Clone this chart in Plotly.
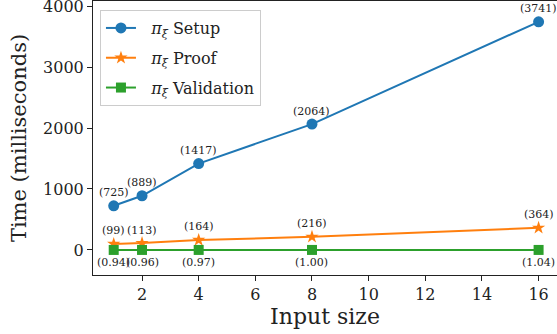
import plotly.graph_objects as go

input_sizes = [1, 2, 4, 8, 16]
setup_ms = [725, 889, 1417, 2064, 3741]
proof_ms = [99, 113, 164, 216, 364]
validation_ms = [0.94, 0.96, 0.97, 1.00, 1.04]
setup_labels = ["(725)", "(889)", "(1417)", "(2064)", "(3741)"]
proof_labels = ["(99)", "(113)", "(164)", "(216)", "(364)"]
validation_labels = ["(0.94)", "(0.96)", "(0.97)", "(1.00)", "(1.04)"]
x_ticks = [2, 4, 6, 8, 10, 12, 14, 16]
y_ticks = [0, 1000, 2000, 3000, 4000]

FONT = "DejaVu Serif"
fig = go.Figure()

series = [
    ("&nbsp;&nbsp;<i>π</i><sub><i>ξ</i></sub> Setup", setup_ms, "#1f77b4", "circle", 11),
    ("&nbsp;&nbsp;<i>π</i><sub><i>ξ</i></sub> Proof", proof_ms, "#ff7f0e", "star", 10),
    ("&nbsp;&nbsp;<i>π</i><sub><i>ξ</i></sub> Validation", validation_ms, "#2ca02c", "square", 10),
]
for i, (name, ys, col, sym, sz) in enumerate(series):
    fig.add_trace(go.Scatter(
        x=input_sizes, y=ys, name=name, mode="lines+markers",
        line=dict(color=col, width=2),
        marker=dict(symbol=sym, size=sz, color=col, line=dict(width=0)),
        legendgroup=f"g{i}",
    ))

for xs, ys, labels, shift in [
    (input_sizes, setup_ms, setup_labels, 13),
    (input_sizes, proof_ms, proof_labels, 13),
    (input_sizes, validation_ms, validation_labels, -13),
]:
    for x, y, t in zip(xs, ys, labels):
        fig.add_annotation(x=x, y=y, text=t, showarrow=False, yshift=shift,
                           font=dict(family=FONT, size=11, color="#222"))

fig.update_layout(
    width=557, height=334,
    margin=dict(l=93, r=0, t=1, b=59),
    plot_bgcolor="white", paper_bgcolor="white",
    font=dict(family=FONT, color="#222"),
    showlegend=True,
    legend=dict(
        x=0.015, y=0.967, xanchor="left", yanchor="top",
        bgcolor="white", bordercolor="#cccccc", borderwidth=1,
        font=dict(family=FONT, size=16, color="#222"),
        traceorder="grouped", tracegroupgap=6,
    ),
    xaxis=dict(
        range=[0.269, 16.65], tickvals=x_ticks, ticks="outside", ticklen=5,
        tickcolor="#222", showline=True, linecolor="#222", linewidth=1,
        mirror=True, showgrid=False, zeroline=False, automargin=False,
        ticklabeloverflow="allow",
        tickfont=dict(family=FONT, size=16, color="#222"),
        title=dict(text="Input size", font=dict(family=FONT, size=22, color="#222"),
                   standoff=4),
    ),
    yaxis=dict(
        range=[-410, 4082], tickvals=y_ticks, ticks="outside", ticklen=5,
        tickcolor="#222", showline=True, linecolor="#222", linewidth=1,
        showgrid=False, zeroline=False, automargin=False,
        ticklabeloverflow="allow",
        tickfont=dict(family=FONT, size=16, color="#222"),
        title=dict(text="Time (milliseconds)", font=dict(family=FONT, size=21, color="#222"),
                   standoff=10),
    ),
)

fig.write_html("out.html", config={"displayModeBar": False},
               post_script="document.body.style.margin='0';")
